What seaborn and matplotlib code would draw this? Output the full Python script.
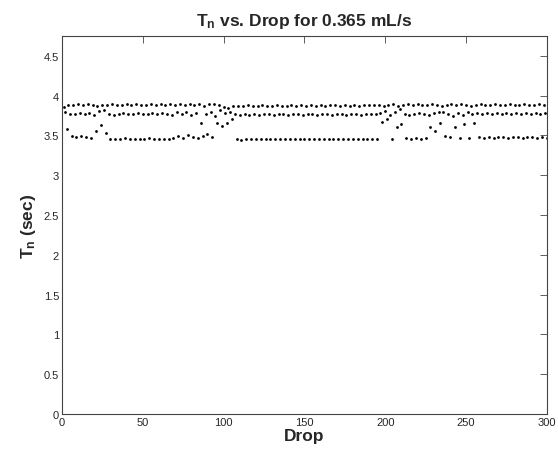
import numpy as np
import pandas as pd
import matplotlib
matplotlib.use("Agg")
import matplotlib.pyplot as plt
import seaborn as sns
from matplotlib.ticker import FuncFormatter

# T_n (sec) for drops 1..300 (three-period cycle: long, medium, short)
tn_values = [
    3.86, 3.80, 3.58,  3.88, 3.77, 3.49,  3.88, 3.77, 3.48,  3.89, 3.78, 3.49,
    3.88, 3.77, 3.48,  3.89, 3.78, 3.47,  3.88, 3.76, 3.56,  3.87, 3.81, 3.63,
    3.88, 3.82, 3.53,  3.88, 3.77, 3.45,  3.89, 3.76, 3.46,  3.88, 3.77, 3.46,
    3.88, 3.78, 3.47,  3.89, 3.77, 3.45,  3.88, 3.77, 3.46,  3.89, 3.78, 3.46,
    3.88, 3.77, 3.46,  3.88, 3.77, 3.47,  3.89, 3.78, 3.46,  3.88, 3.77, 3.46,
    3.89, 3.78, 3.45,  3.88, 3.77, 3.46,  3.89, 3.76, 3.47,  3.88, 3.80, 3.49,
    3.90, 3.77, 3.47,  3.88, 3.79, 3.50,  3.89, 3.76, 3.48,  3.88, 3.78, 3.47,
    3.90, 3.65, 3.49,  3.87, 3.77, 3.52,  3.89, 3.80, 3.48,  3.90, 3.75, 3.66,
    3.88, 3.82, 3.62,  3.86, 3.78, 3.65,  3.85, 3.80, 3.70,  3.87, 3.77, 3.46,
    3.87, 3.76, 3.44,  3.87, 3.77, 3.45,  3.88, 3.76, 3.45,  3.87, 3.77, 3.45,
    3.87, 3.76, 3.46,  3.88, 3.77, 3.45,  3.87, 3.77, 3.45,  3.87, 3.76, 3.46,
    3.88, 3.77, 3.45,  3.87, 3.77, 3.46,  3.87, 3.76, 3.45,  3.88, 3.77, 3.46,
    3.87, 3.77, 3.45,  3.88, 3.76, 3.46,  3.87, 3.77, 3.46,  3.88, 3.77, 3.45,
    3.87, 3.76, 3.46,  3.88, 3.77, 3.46,  3.87, 3.77, 3.45,  3.88, 3.76, 3.46,
    3.88, 3.77, 3.46,  3.87, 3.77, 3.45,  3.88, 3.76, 3.46,  3.87, 3.77, 3.46,
    3.88, 3.77, 3.45,  3.87, 3.76, 3.46,  3.88, 3.77, 3.46,  3.88, 3.77, 3.46,
    3.88, 3.77, 3.45,
    3.88, 3.78, 3.67,  3.87, 3.81, 3.70,  3.88, 3.76, 3.46,  3.89, 3.80, 3.61,
    3.87, 3.83, 3.64,  3.88, 3.77, 3.47,  3.89, 3.76, 3.46,  3.88, 3.77, 3.47,
    3.89, 3.78, 3.46,  3.88, 3.77, 3.47,  3.88, 3.76, 3.60,  3.89, 3.78, 3.55,
    3.88, 3.79, 3.65,  3.87, 3.80, 3.49,  3.88, 3.77, 3.48,  3.89, 3.75, 3.61,
    3.88, 3.78, 3.47,  3.89, 3.76, 3.64,  3.88, 3.79, 3.47,  3.87, 3.77, 3.65,
    3.88, 3.78, 3.48,  3.89, 3.77, 3.47,  3.88, 3.78, 3.48,  3.88, 3.77, 3.47,
    3.89, 3.78, 3.48,  3.88, 3.77, 3.48,  3.88, 3.78, 3.47,  3.89, 3.77, 3.48,
    3.88, 3.78, 3.48,  3.88, 3.77, 3.47,  3.89, 3.78, 3.48,  3.88, 3.77, 3.48,
    3.88, 3.78, 3.47,  3.89, 3.77, 3.48,  3.88, 3.78, 3.47,  3.88, 3.77, 3.48,
    3.89, 3.78, 3.47,
]
drops = np.arange(1, len(tn_values) + 1)

x_ticks = [0, 50, 100, 150, 200, 250, 300]
y_ticks = [0, 0.5, 1, 1.5, 2, 2.5, 3, 3.5, 4, 4.5]

title_text = r"$\mathbf{T_n}$ vs. Drop for 0.365 mL/s"
x_label = "Drop"
y_label = r"$\mathbf{T_n}$ (sec)"

df = pd.DataFrame({"Drop": drops, "Tn": tn_values})

sns.set_style("white")
plt.rcParams["font.family"] = ["Liberation Sans", "DejaVu Sans"]
plt.rcParams["mathtext.fontset"] = "custom"
plt.rcParams["mathtext.rm"] = "Liberation Sans"
plt.rcParams["mathtext.bf"] = "Liberation Sans:bold"
plt.rcParams["mathtext.it"] = "Liberation Sans:italic"

fig = plt.figure(figsize=(5.58, 4.56), dpi=100)
ax = fig.add_axes([0.111, 0.090, 0.869, 0.829])

sns.scatterplot(data=df, x="Drop", y="Tn", ax=ax, color="black", s=4,
                marker="o", linewidth=0, legend=False)

ax.set_xlim(0, 300)
ax.set_ylim(0, 4.75)
ax.set_xticks(x_ticks)
ax.set_yticks(y_ticks)
ax.yaxis.set_major_formatter(FuncFormatter(lambda v, p: f"{v:g}"))
ax.tick_params(direction="in", length=5, width=0.6, color="#444444",
               labelsize=8, top=True, right=True, pad=2)
for sp in ax.spines.values():
    sp.set_color("#444444")
    sp.set_linewidth(0.8)

ax.set_title(title_text, fontsize=12.5, fontweight="bold", pad=8)
ax.set_xlabel(x_label, fontsize=12.5, fontweight="bold", labelpad=1)
ax.set_ylabel(y_label, fontsize=12.5, fontweight="bold", labelpad=4)

fig.savefig("out.png", dpi=100)
